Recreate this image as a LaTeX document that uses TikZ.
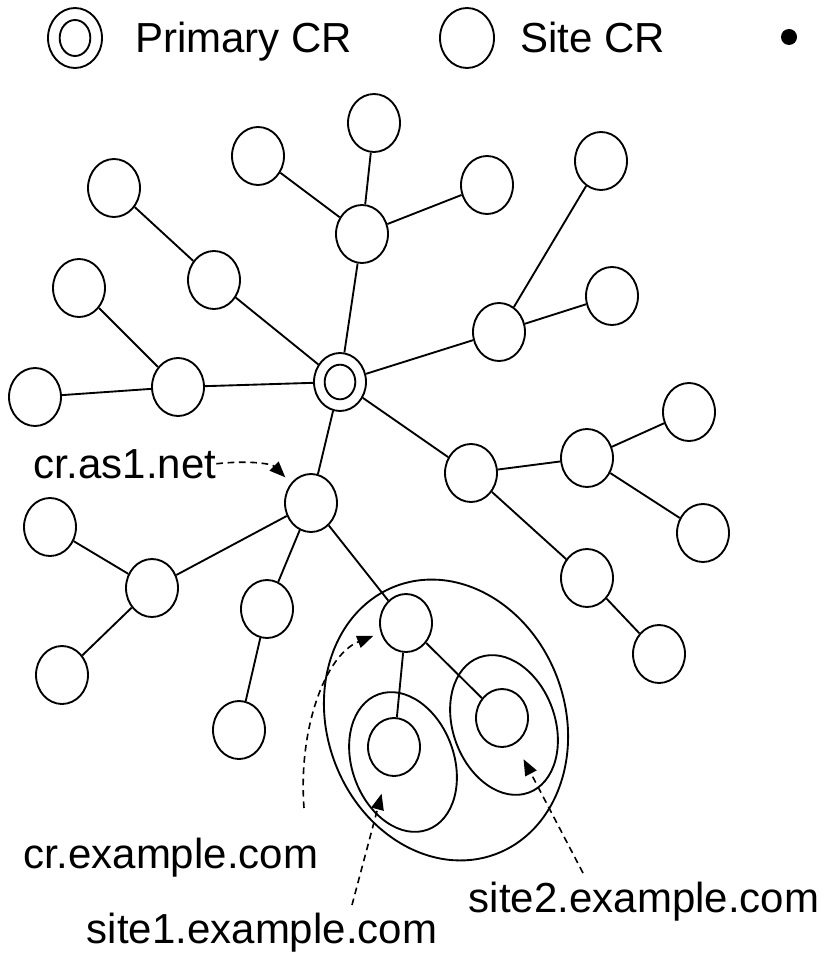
\documentclass[tikz,border=0pt]{standalone}
\usepackage{fontspec}
\setmainfont{Liberation Sans}
\usetikzlibrary{shapes.geometric}
\usetikzlibrary{arrows.meta}

\tikzset{
    cr/.style={draw, ellipse, fill=white, line width=1.4pt, inner sep=0pt,
               minimum width=39pt, minimum height=43.5pt},
    crcore/.style={draw, ellipse, line width=1.4pt, inner sep=0pt,
                   minimum width=23pt, minimum height=26pt},
    zone/.style={draw, ellipse, line width=1.4pt, inner sep=0pt, rotate=20},
    link/.style={line width=1.4pt},
    pointer/.style={line width=1.2pt, dash pattern=on 5pt off 3.5pt,
                    -{Triangle[length=12pt,width=9.5pt]}},
    lbl/.style={inner sep=0pt, anchor=base, font=\fontsize{31.5}{36}\selectfont}
}

\begin{document}
\begin{tikzpicture}[x=0.75pt,y=-0.75pt]

            \useasboundingbox (0,0) rectangle (838,955);

            % legend
            \path   (75,38)  node (legpcr) [cr, minimum width=40.5pt, minimum height=45pt] {}
                    (75,38)  node (legcore) [crcore, minimum height=27pt] {}
                    (135,53) node (legpcrlbl) [lbl, anchor=base west] {Primary CR}
                    (467,38) node (legcr) [cr, minimum width=40.5pt, minimum height=45pt] {}
                    (520,53) node (legcrlbl) [lbl, anchor=base west] {Site CR}
                    (789,37) node (legdot) [circle, fill, inner sep=0pt, minimum size=12pt] {};

            % zones around example.com
            \path   (446,720) node (exzone)    [zone, minimum width=178.5pt, minimum height=214.5pt] {}
                    (403,762) node (site1zone) [zone, minimum width=76.5pt, minimum height=108pt] {}
                    (504,725) node (site2zone) [zone, minimum width=76.5pt, minimum height=108pt] {};

            % CR tree
            \path   (340,382) node (pcr) [cr] {}
                    (340,382) node (pcrcore) [crcore] {}
                    (362,234) node (t)   [cr] {}
                    (374,123) node (t1)  [cr] {}
                    (258,156) node (t2)  [cr] {}
                    (487,185) node (t3)  [cr] {}
                    (214,280) node (ul)  [cr] {}
                    (114,188) node (ul1) [cr] {}
                    (178,387) node (l)   [cr] {}
                    (79,288)  node (l1)  [cr] {}
                    (35,397)  node (l2)  [cr] {}
                    (499,332) node (ur)  [cr] {}
                    (601,161) node (ur1) [cr] {}
                    (612,296) node (ur2) [cr] {}
                    (471,473) node (r)   [cr] {}
                    (587,458) node (r1)  [cr] {}
                    (587,578) node (r2)  [cr] {}
                    (689,412) node (r11) [cr] {}
                    (703,533) node (r12) [cr] {}
                    (659,654) node (r21) [cr] {}
                    (311,503) node (as1) [cr] {}
                    (152,588) node (a)   [cr] {}
                    (50,527)  node (a1)  [cr] {}
                    (62,675)  node (a2)  [cr] {}
                    (267,609) node (b)   [cr] {}
                    (239,730) node (b1)  [cr] {}
                    (406,623) node (ex)  [cr] {}
                    (394,747) node (s1)  [cr] {}
                    (502,718) node (s2)  [cr] {};

            \draw[link] (pcr) -- (t);
            \draw[link] (t) -- (t1);
            \draw[link] (t) -- (t2);
            \draw[link] (t) -- (t3);
            \draw[link] (pcr) -- (ul);
            \draw[link] (ul) -- (ul1);
            \draw[link] (pcr) -- (l);
            \draw[link] (l) -- (l1);
            \draw[link] (l) -- (l2);
            \draw[link] (pcr) -- (ur);
            \draw[link] (ur) -- (ur1);
            \draw[link] (ur) -- (ur2);
            \draw[link] (pcr) -- (r);
            \draw[link] (r) -- (r1);
            \draw[link] (r) -- (r2);
            \draw[link] (r1) -- (r11);
            \draw[link] (r1) -- (r12);
            \draw[link] (r2) -- (r21);
            \draw[link] (pcr) -- (as1);
            \draw[link] (as1) -- (a);
            \draw[link] (a) -- (a1);
            \draw[link] (a) -- (a2);
            \draw[link] (as1) -- (b);
            \draw[link] (b) -- (b1);
            \draw[link] (as1) -- (ex);
            \draw[link] (ex) -- (s1);
            \draw[link] (ex) -- (s2);

            % names
            \path   (125,478) node (as1lbl)  [lbl] {cr.as1.net}
                    (171,868) node (crexlbl) [lbl] {cr.example.com}
                    (644,912) node (s2lbl)   [lbl] {site2.example.com}
                    (262,943) node (s1lbl)   [lbl] {site1.example.com};

            \coordinate (crextail) at (304,808);
            \coordinate (s1tail) at (352,905);
            \coordinate (s2tail) at (583,873);

            \draw[pointer, shorten >=6pt] (as1lbl.east) .. controls (250,460) and (272,464) .. (as1);
            \draw[pointer, shorten >=6pt] (crextail) .. controls (298,730) and (325,655) .. (ex);
            \draw[pointer, shorten >=14pt] (s1tail) -- (s1);
            \draw[pointer, shorten >=13pt] (s2tail) -- (s2);

\end{tikzpicture}
\end{document}
